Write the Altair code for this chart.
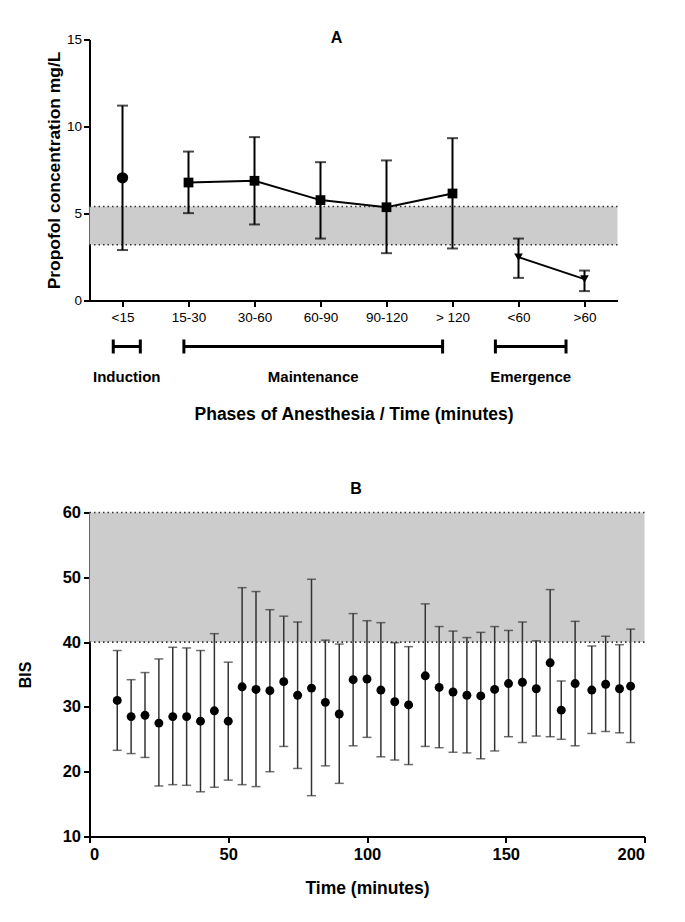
import altair as alt
import pandas as pd

FONT = "Liberation Sans"

# ---------------- Panel A data ----------------
phase_labels = ["<15", "15-30", "30-60", "60-90", "90-120", "> 120", "<60", ">60"]
phase_pos = [0, 1, 2, 3, 4, 5, 6, 7]
conc_mean = [7.05, 6.78, 6.88, 5.77, 5.36, 6.15, 2.49, 1.23]
conc_upper = [11.2, 8.56, 9.39, 7.95, 8.05, 9.33, 3.56, 1.72]
conc_lower = [2.9, 5.02, 4.37, 3.56, 2.72, 2.99, 1.30, 0.54]
conc_phase = ["Induction", "Maintenance", "Maintenance", "Maintenance",
              "Maintenance", "Maintenance", "Emergence", "Emergence"]
conc_shape = ["circle", "square", "square", "square", "square", "square",
              "triangle-down", "triangle-down"]

target_range_a = [3.2, 5.4]
x_range_a = [-0.5, 7.5]

bracket_names = ["Induction", "Maintenance", "Emergence"]
bracket_start = [-0.14, 0.93, 5.65]
bracket_end = [0.27, 4.85, 6.72]

# ---------------- Panel B data ----------------
bis_time = [10, 15, 20, 25, 30, 35, 40, 45, 50, 55, 60, 65, 70, 75, 80, 85, 90,
            95, 100, 105, 110, 115, 121, 126, 131, 136, 141, 146, 151, 156, 161,
            166, 170, 175, 181, 186, 191, 195]
bis_mean = [31.0, 28.5, 28.7, 27.5, 28.5, 28.5, 27.8, 29.4, 27.8, 33.1, 32.7,
            32.5, 33.9, 31.8, 32.9, 30.7, 28.9, 34.2, 34.3, 32.6, 30.8, 30.3,
            34.8, 33.0, 32.3, 31.8, 31.7, 32.7, 33.6, 33.8, 32.8, 36.8, 29.5,
            33.6, 32.6, 33.5, 32.8, 33.2]
bis_upper = [38.7, 34.2, 35.3, 37.4, 39.2, 39.1, 38.7, 41.3, 36.9, 48.4, 47.8,
             45.0, 44.0, 43.1, 49.7, 40.3, 39.7, 44.4, 43.3, 43.0, 39.9, 39.3,
             45.9, 42.4, 41.7, 40.7, 41.5, 42.4, 41.8, 43.1, 40.2, 48.1, 34.0,
             43.2, 39.4, 40.9, 39.6, 42.0]
bis_lower = [23.3, 22.8, 22.2, 17.8, 18.0, 17.9, 16.9, 17.6, 18.7, 18.0, 17.7,
             20.0, 23.9, 20.5, 16.3, 20.9, 18.2, 24.0, 25.3, 22.3, 21.8, 21.1,
             23.9, 23.7, 23.0, 22.9, 22.0, 23.2, 25.4, 24.5, 25.5, 25.4, 25.0,
             24.0, 25.9, 26.2, 26.0, 24.5]

target_range_b = [40, 60]
x_range_b = [0, 200]
y_range_b = [10, 60]

# ---------------- shared styles ----------------
axis_style = dict(domainColor="black", domainWidth=2, tickColor="black",
                  tickWidth=2, tickSize=6, labelColor="black", titleColor="black",
                  grid=False, labelFont=FONT, titleFont=FONT)

# ---------------- Panel A ----------------
dfA = pd.DataFrame(dict(pos=phase_pos, label=phase_labels, mean=conc_mean,
                        upper=conc_upper, lower=conc_lower, phase=conc_phase,
                        shape=conc_shape))
dfA["size"] = dfA["shape"].map({"circle": 130, "square": 95, "triangle-down": 75})
bandA = pd.DataFrame({"x": [x_range_a[0]], "x2": [x_range_a[1]],
                      "lo": [target_range_a[0]], "hi": [target_range_a[1]]})
limA = pd.DataFrame({"x": [x_range_a[0]] * 2, "x2": [x_range_a[1]] * 2,
                     "y": target_range_a})
brA = pd.DataFrame(dict(name=bracket_names, start=bracket_start, end=bracket_end))

label_expr = "[" + ",".join("'" + l + "'" for l in phase_labels) + "][datum.value]"

xscaleA = alt.Scale(domain=x_range_a, nice=False, zero=False)
yscaleA = alt.Scale(domain=[0, 15], nice=False)
xaxisA = alt.Axis(values=phase_pos, labelExpr=label_expr,
                  title="Phases of Anesthesia / Time (minutes)",
                  labelFontSize=13.5, labelPadding=4, titlePadding=81,
                  titleFontSize=17.5, titleFontWeight="bold", **axis_style)
yaxisA = alt.Axis(values=[0, 5, 10, 15], title="Propofol concentration mg/L",
                  labelFontSize=13.5, labelPadding=2, titlePadding=3,
                  titleFontSize=17.4, titleFontWeight="bold", **axis_style)


def xa(field):
    return alt.X(field, type="quantitative", scale=xscaleA, axis=xaxisA)


def ya(field):
    return alt.Y(field, type="quantitative", scale=yscaleA, axis=yaxisA)


a_band = alt.Chart(bandA).mark_rect(color="#cccccc").encode(
    x=xa("x"), x2="x2", y=ya("lo"), y2="hi")
a_lim = alt.Chart(limA).mark_rule(color="#333333", strokeWidth=1.6,
                                  strokeDash=[1.5, 3]).encode(
    x=xa("x"), x2="x2", y=ya("y"))
a_err = alt.Chart(dfA).mark_rule(color="black", strokeWidth=2).encode(
    x=xa("pos"), y=ya("lower"), y2="upper")
a_cap_hi = alt.Chart(dfA).mark_tick(color="black", orient="horizontal",
                                    size=11, thickness=2).encode(
    x=xa("pos"), y=ya("upper"))
a_cap_lo = alt.Chart(dfA).mark_tick(color="black", orient="horizontal",
                                    size=11, thickness=2).encode(
    x=xa("pos"), y=ya("lower"))
a_line = alt.Chart(dfA).mark_line(color="black", strokeWidth=2).encode(
    x=xa("pos"), y=ya("mean"), detail="phase:N", order="pos:Q")
a_pts = alt.Chart(dfA).mark_point(filled=True, color="black", opacity=1).encode(
    x=xa("pos"), y=ya("mean"),
    shape=alt.Shape("shape:N", scale=None),
    size=alt.Size("size:Q", scale=None))

a_br = alt.Chart(brA).mark_rule(color="black", strokeWidth=3).encode(
    x=xa("start"), x2="end", y=alt.value(307))
a_br_caps = alt.Chart(brA).transform_fold(["start", "end"]).mark_rule(
    color="black", strokeWidth=3).encode(
    x=xa("value"), y=alt.value(300), y2=alt.value(314))
a_br_txt = alt.Chart(brA).transform_calculate(
    mid="(datum.start + datum.end) / 2").mark_text(
    font=FONT, fontSize=15, fontWeight="bold", color="black",
    baseline="middle").encode(x=xa("mid"), y=alt.value(337), text="name:N")

chartA = alt.layer(a_band, a_lim, a_err, a_cap_hi, a_cap_lo, a_line, a_pts,
                   a_br, a_br_caps, a_br_txt).properties(
    width=528, height=261,
    title=alt.TitleParams("A", font=FONT, fontSize=16, fontWeight="bold",
                          color="black", dx=-17, offset=-13))

# ---------------- Panel B ----------------
dfB = pd.DataFrame(dict(t=bis_time, mean=bis_mean, upper=bis_upper, lower=bis_lower))
bandB = pd.DataFrame({"x": [x_range_b[0]], "x2": [x_range_b[1]],
                      "lo": [target_range_b[0]], "hi": [target_range_b[1]]})
limB = pd.DataFrame({"x": [x_range_b[0]] * 2, "x2": [x_range_b[1]] * 2,
                     "y": target_range_b})

xscaleB = alt.Scale(domain=x_range_b, nice=False)
yscaleB = alt.Scale(domain=y_range_b, nice=False, zero=False)
xaxisB = alt.Axis(values=[0, 50, 100, 150, 200], title="Time (minutes)",
                  labelFontSize=16.5, labelFontWeight="bold", labelPadding=4,
                  titlePadding=16, titleFontSize=17.5, titleFontWeight="bold",
                  **axis_style)
yaxisB = alt.Axis(values=[10, 20, 30, 40, 50, 60], title="BIS",
                  labelFontSize=16.5, labelFontWeight="bold", labelPadding=3,
                  titlePadding=29, titleFontSize=16, titleFontWeight="bold",
                  **axis_style)


def xb(field):
    return alt.X(field, type="quantitative", scale=xscaleB, axis=xaxisB)


def yb(field):
    return alt.Y(field, type="quantitative", scale=yscaleB, axis=yaxisB)


b_band = alt.Chart(bandB).mark_rect(color="#cccccc").encode(
    x=xb("x"), x2="x2", y=yb("lo"), y2="hi")
b_lim = alt.Chart(limB).mark_rule(color="#333333", strokeWidth=1.6,
                                  strokeDash=[1.5, 3]).encode(
    x=xb("x"), x2="x2", y=yb("y"))
b_err = alt.Chart(dfB).mark_rule(color="#333333", strokeWidth=1.5).encode(
    x=xb("t"), y=yb("lower"), y2="upper")
b_cap_hi = alt.Chart(dfB).mark_tick(color="#333333", orient="horizontal",
                                    size=9, thickness=1.5).encode(
    x=xb("t"), y=yb("upper"))
b_cap_lo = alt.Chart(dfB).mark_tick(color="#333333", orient="horizontal",
                                    size=9, thickness=1.5).encode(
    x=xb("t"), y=yb("lower"))
b_pts = alt.Chart(dfB).mark_point(filled=True, color="black", opacity=1,
                                  shape="circle", size=80).encode(
    x=xb("t"), y=yb("mean"))

chartB = alt.layer(b_band, b_lim, b_err, b_cap_hi, b_cap_lo, b_pts).properties(
    width=555, height=324,
    title=alt.TitleParams("B", font=FONT, fontSize=16, fontWeight="bold",
                          color="black", dx=-11, offset=8))

chart = alt.vconcat(chartA, chartB, spacing=212, bounds="flush").properties(
    padding={"left": 8.5, "top": 21.5, "right": 5, "bottom": 5},
    background="white"
).configure_view(stroke=None)

chart.save("out.html", embed_options={"renderer": "svg", "actions": False})
